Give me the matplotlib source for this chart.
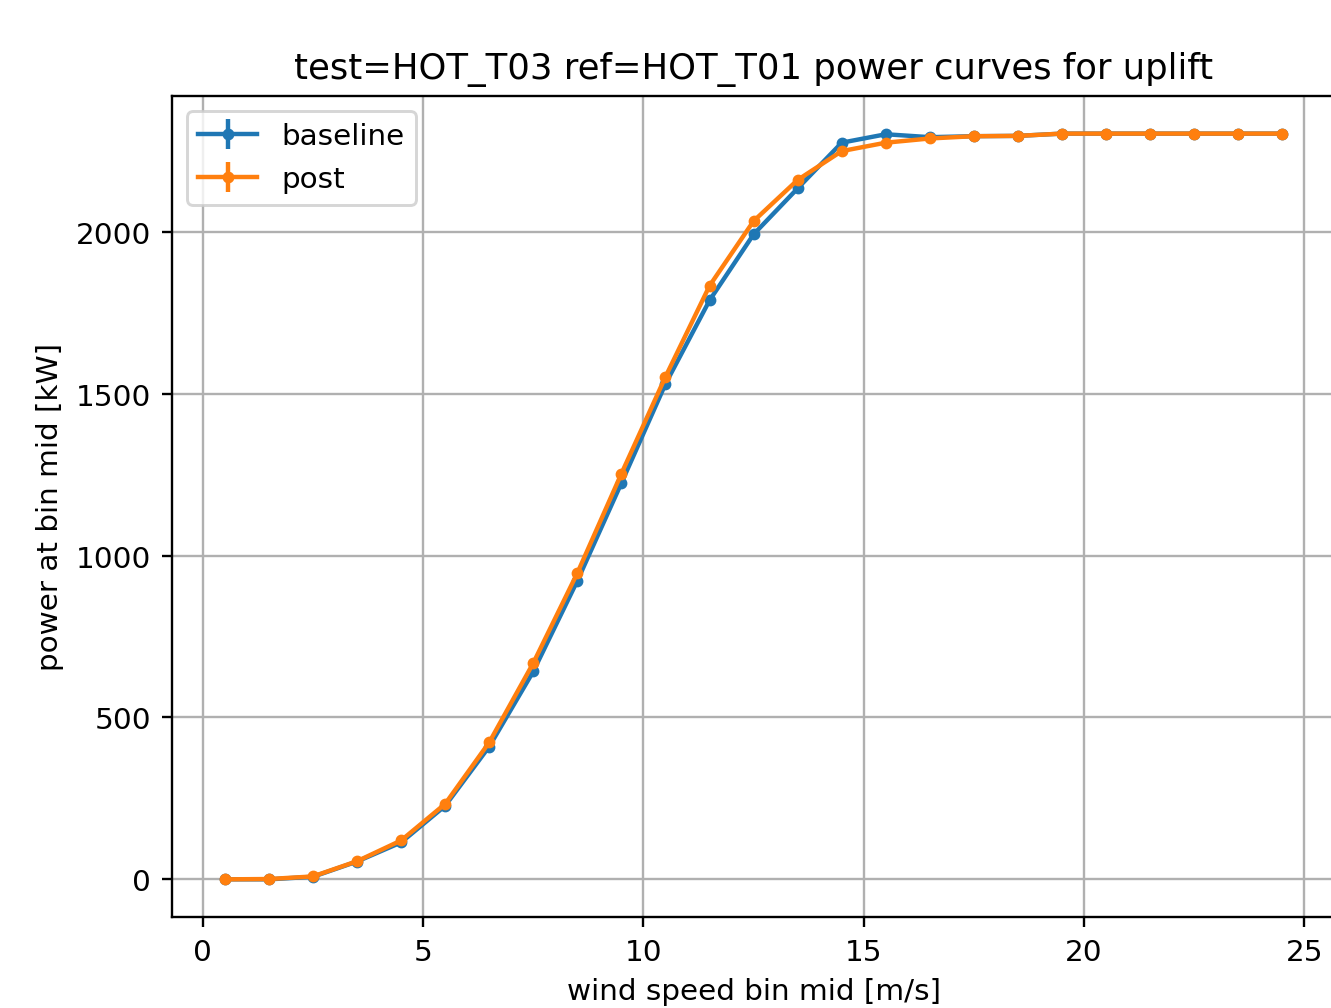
import numpy as np
import matplotlib
matplotlib.use("Agg")
import matplotlib.pyplot as plt

# wind speed bin mids [m/s]
bin_mid = [0.5, 1.5, 2.5, 3.5, 4.5, 5.5, 6.5, 7.5, 8.5, 9.5, 10.5, 11.5, 12.5,
           13.5, 14.5, 15.5, 16.5, 17.5, 18.5, 19.5, 20.5, 21.5, 22.5, 23.5, 24.5]

# power at bin mid [kW]
baseline_kw = [0, 0, 8, 55, 114, 227, 410, 642, 922, 1224, 1530, 1788, 1992,
               2134, 2275, 2301, 2292, 2295, 2296, 2303, 2303, 2303, 2303, 2303, 2303]
post_kw = [0, 1, 9, 56, 120, 233, 423, 668, 946, 1253, 1552, 1833, 2033,
           2160, 2249, 2275, 2288, 2295, 2296, 2303, 2303, 2303, 2303, 2303, 2303]

# uncertainty per bin [kW] (too small to see on the chart)
baseline_err = [1, 1, 2, 3, 4, 5, 6, 7, 8, 8, 8, 8, 7, 6, 5, 3, 2, 2, 2, 1, 1, 1, 1, 1, 1]
post_err = [1, 1, 2, 3, 4, 5, 6, 7, 8, 8, 8, 8, 7, 6, 5, 3, 2, 2, 2, 1, 1, 1, 1, 1, 1]

DPI = 212
fig = plt.figure(figsize=(1331 / DPI, 1009 / DPI), dpi=DPI)
# right edge sits just past the canvas, like the cropped original
ax = fig.add_axes([0.1292, 0.0902, 0.8740, 0.8137])

ax.errorbar(bin_mid, baseline_kw, yerr=baseline_err, fmt=".-", label="baseline")
ax.errorbar(bin_mid, post_kw, yerr=post_err, fmt=".-", label="post")

ax.set_xlabel("wind speed bin mid [m/s]")
ax.set_ylabel("power at bin mid [kW]")
ax.set_title("test=HOT_T03 ref=HOT_T01 power curves for uplift")
ax.grid()
ax.legend(loc="upper left")

fig.savefig("out.png", dpi=DPI)
